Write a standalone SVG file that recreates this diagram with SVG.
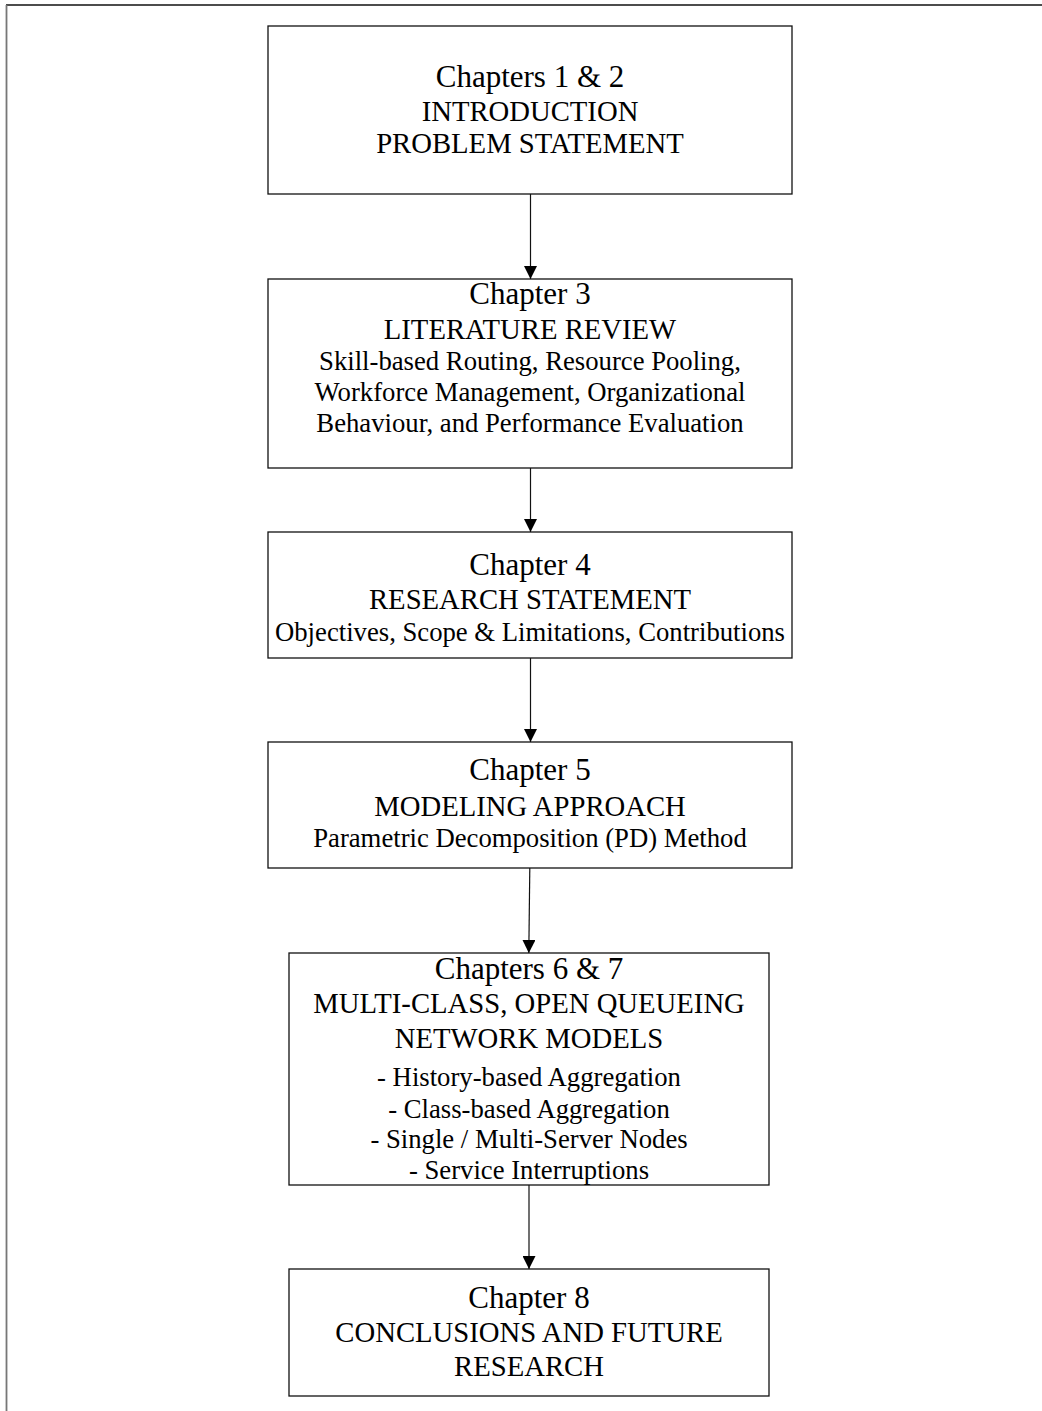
<svg xmlns="http://www.w3.org/2000/svg" width="1042" height="1411" viewBox="0 0 1042 1411">
<defs>
<style>
.box{fill:#fff;stroke:#111;stroke-width:1.3}
.t{font-family:"Liberation Serif","Times New Roman",serif;fill:#000;text-anchor:middle}
.h{font-size:31px}
.c{font-size:28.7px}
.s{font-size:26.7px}
.con{stroke:#111;stroke-width:1.2;fill:none;marker-end:url(#ah)}
</style>
<marker id="ah" viewBox="0 0 13 13" refX="13" refY="6.5" markerWidth="13" markerHeight="13" markerUnits="userSpaceOnUse" orient="auto">
<path d="M0,0 L13,6.5 L0,13 z" fill="#000"/>
</marker>
</defs>
<rect width="1042" height="1411" fill="#fff"/>
<g id="frame">
<line x1="6" y1="5" x2="1042" y2="5" stroke="#111" stroke-width="1.5"/>
<line x1="6.5" y1="5" x2="6.5" y2="1411" stroke="#777" stroke-width="1.8"/>
</g>
<g id="connectors">
<line class="con" x1="530.5" y1="194" x2="530.5" y2="279"/>
<line class="con" x1="530.5" y1="468" x2="530.5" y2="532"/>
<line class="con" x1="530.5" y1="658" x2="530.5" y2="742"/>
<line class="con" x1="529.8" y1="868" x2="528.8" y2="953"/>
<line class="con" x1="529" y1="1185" x2="529" y2="1269"/>
</g>
<g id="n1">
<rect class="box" x="268" y="26" width="524" height="168"/>
<text class="t h" x="530" y="87">Chapters 1 &amp; 2</text>
<text class="t c" x="530" y="120.5">INTRODUCTION</text>
<text class="t c" x="530" y="153">PROBLEM STATEMENT</text>
</g>
<g id="n2">
<rect class="box" x="268" y="279" width="524" height="189"/>
<text class="t h" x="530" y="303.5">Chapter 3</text>
<text class="t c" x="530" y="339">LITERATURE REVIEW</text>
<text class="t s" x="530" y="370">Skill-based Routing, Resource Pooling,</text>
<text class="t s" x="530" y="401">Workforce Management, Organizational</text>
<text class="t s" x="530" y="431.5">Behaviour, and Performance Evaluation</text>
</g>
<g id="n3">
<rect class="box" x="268" y="532" width="524" height="126"/>
<text class="t h" x="530" y="575">Chapter 4</text>
<text class="t c" x="530" y="609">RESEARCH STATEMENT</text>
<text class="t s" x="530" y="641">Objectives, Scope &amp; Limitations, Contributions</text>
</g>
<g id="n4">
<rect class="box" x="268" y="742" width="524" height="126"/>
<text class="t h" x="530" y="780">Chapter 5</text>
<text class="t c" x="530" y="815.5">MODELING APPROACH</text>
<text class="t s" x="530" y="846.5">Parametric Decomposition (PD) Method</text>
</g>
<g id="n5">
<rect class="box" x="289" y="953" width="480" height="232"/>
<text class="t h" x="529" y="979">Chapters 6 &amp; 7</text>
<text class="t c" x="529" y="1013.3">MULTI-CLASS, OPEN QUEUEING</text>
<text class="t c" x="529" y="1048.3">NETWORK MODELS</text>
<text class="t s" x="529" y="1085.7">- History-based Aggregation</text>
<text class="t s" x="529" y="1117.7">- Class-based Aggregation</text>
<text class="t s" x="529" y="1148.3">- Single / Multi-Server Nodes</text>
<text class="t s" x="529" y="1179.3">- Service Interruptions</text>
</g>
<g id="n6">
<rect class="box" x="289" y="1269" width="480" height="127"/>
<text class="t h" x="529" y="1307.7">Chapter 8</text>
<text class="t c" x="529" y="1342.3">CONCLUSIONS AND FUTURE</text>
<text class="t c" x="529" y="1375.7">RESEARCH</text>
</g>
</svg>
